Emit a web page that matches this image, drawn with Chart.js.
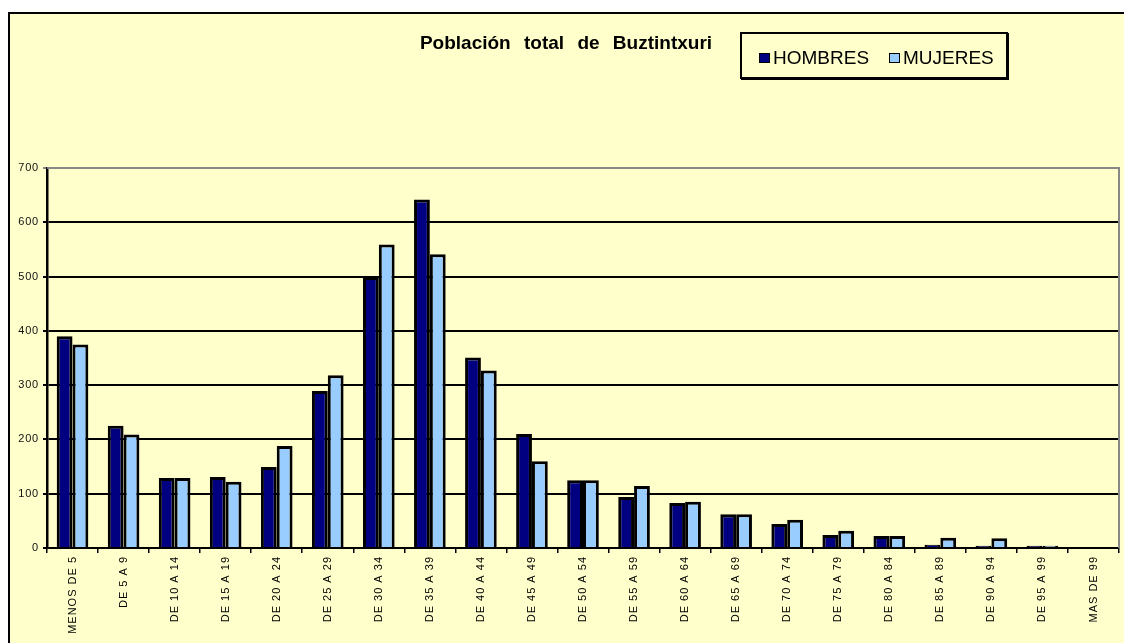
<!DOCTYPE html>
<html><head><meta charset="utf-8">
<script src="https://cdn.jsdelivr.net/npm/chart.js@4/dist/chart.umd.min.js"></script>
<style>
html,body{margin:0;padding:0;background:#fff;width:1124px;height:643px;overflow:hidden;}
#frame{position:absolute;left:8px;top:12px;width:1116px;height:631px;box-sizing:border-box;background:#FFFFCC;border-top:2px solid #000;border-left:2px solid #000;}
#chart{position:absolute;left:10px;top:14px;}
#title{position:absolute;left:366px;width:400px;top:33px;font:bold 19px "Liberation Sans",Arial,sans-serif;line-height:19px;text-align:center;word-spacing:8px;white-space:nowrap;color:#000;}
#legend{position:absolute;left:740px;top:32px;width:268px;height:47px;box-sizing:border-box;border:2px solid #000;box-shadow:1px 1px 0 #000;}
.sw{position:absolute;width:11px;height:10px;box-sizing:border-box;border:1.5px solid #000;top:53px;}
.lt{position:absolute;top:48px;font:19px "Liberation Sans",Arial,sans-serif;line-height:19px;white-space:nowrap;color:#000;}
</style></head>
<body>
<div id="frame"></div>
<canvas id="chart" width="1114" height="629"></canvas>
<div id="title">Población total de Buztintxuri</div>
<div id="legend"></div>
<div class="sw" style="left:759px;background:#000080"></div>
<div class="lt" style="left:773px">HOMBRES</div>
<div class="sw" style="left:889px;background:#99CCFF"></div>
<div class="lt" style="left:903px">MUJERES</div>
<script>
const categories = ['MENOS DE 5','DE 5 A 9','DE 10 A 14','DE 15 A 19','DE 20 A 24','DE 25 A 29','DE 30 A 34','DE 35 A 39','DE 40 A 44','DE 45 A 49','DE 50 A 54','DE 55 A 59','DE 60 A 64','DE 65 A 69','DE 70 A 74','DE 75 A 79','DE 80 A 84','DE 85 A 89','DE 90 A 94','DE 95 A 99','MAS DE 99'];
const hombres = [390,225,129,131,149,289,499,642,351,210,125,94,83,62,44,24,22,6,4,4,0];
const mujeres = [375,209,129,122,188,318,559,541,327,160,125,114,85,62,52,32,22,19,18,4,0];
const yTicks = [0,100,200,300,400,500,600,700];

const FONT = '"Liberation Sans", Arial, sans-serif';

const framePlugin = {
  id:'framePlugin',
  beforeDraw(chart){
    for (const [id, ls] of [['x','1px'],['y','0.8px']]) {
      const s = chart.scales[id];
      if (s && !s._lsPatched) {
        const o = s.drawLabels;
        s.drawLabels = function(a){ const c=this.ctx; const p=c.letterSpacing; c.letterSpacing=ls; o.call(this,a); c.letterSpacing=p; };
        s._lsPatched = true;
      }
    }
  },
  afterDraw(chart){
    const {ctx, chartArea:a} = chart;
    ctx.save();
    ctx.strokeStyle = '#888';
    ctx.lineWidth = 2;
    ctx.beginPath();
    ctx.moveTo(a.left, a.top);
    ctx.lineTo(a.right, a.top);
    ctx.lineTo(a.right, a.bottom);
    ctx.stroke();
    ctx.restore();
  }
};

new Chart(document.getElementById('chart'), {
  type:'bar',
  data:{
    labels: categories,
    datasets:[
      {label:'HOMBRES', data:hombres, backgroundColor:'#000080', borderColor:'#000', borderWidth:3, categoryPercentage:0.62, barPercentage:1},
      {label:'MUJERES', data:mujeres, backgroundColor:'#99CCFF', borderColor:'#000', borderWidth:3, categoryPercentage:0.62, barPercentage:1}
    ]
  },
  options:{
    responsive:false,
    animation:false,
    layout:{padding:{top:154,right:5,left:0,bottom:0}},
    plugins:{legend:{display:false}, title:{display:false}, tooltip:{enabled:false}},
    scales:{
      x:{
        grid:{offset:true, drawOnChartArea:false, drawTicks:true, tickLength:5, color:'#000', lineWidth:1.5},
        border:{display:true, color:'#000', width:2},
        ticks:{autoSkip:false, minRotation:90, maxRotation:90, padding:3, color:'#000', font:{family:FONT, size:11}},
        afterFit(s){ s.height = 95; }
      },
      y:{
        min:0, max:700,
        afterBuildTicks(s){ s.ticks = yTicks.map(v=>({value:v})); },
        ticks:{padding:4, color:'#111', font:{family:FONT, size:11}},
        grid:{color:(c)=> (c.tick && c.tick.value===700) ? '#888' : '#000', lineWidth:2, tickLength:4, drawTicks:true},
        border:{display:true, color:'#000', width:2.5},
        afterFit(s){ s.width = 37; }
      }
    }
  },
  plugins:[framePlugin]
});
</script>
</body></html>
